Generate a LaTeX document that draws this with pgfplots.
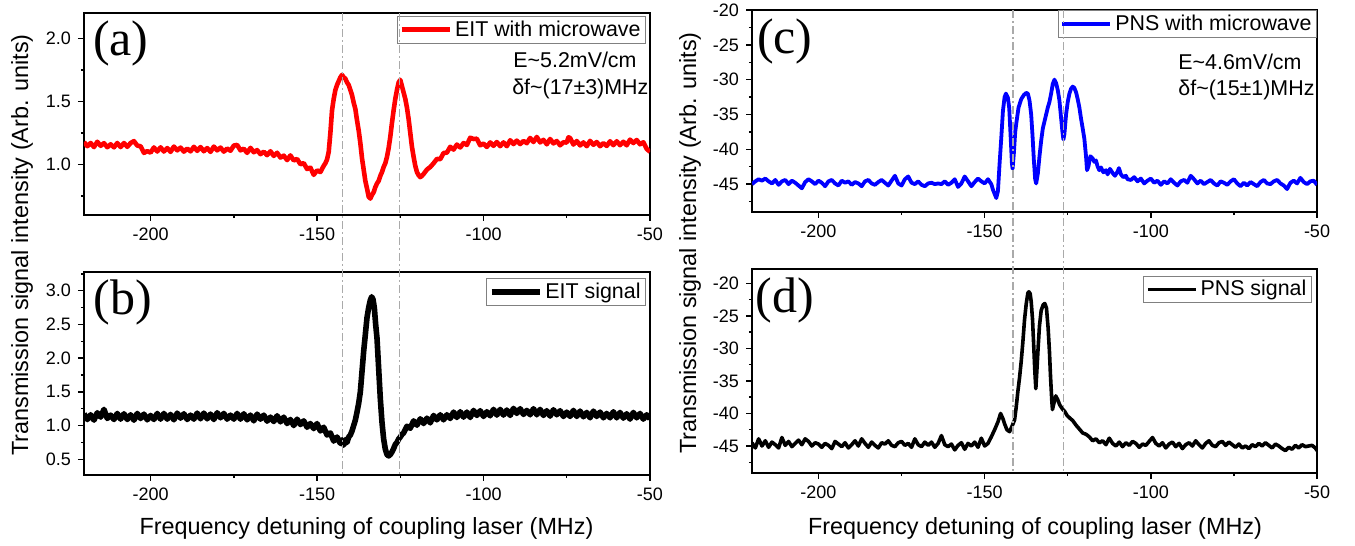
\documentclass[border=0pt]{standalone}
\usepackage{pgfplots}
\pgfplotsset{compat=1.18}
\usepackage{fontspec}
\setmainfont{Liberation Sans}
\newfontfamily\tnr{Liberation Serif}
\definecolor{vline}{RGB}{170,170,170}
\begin{document}
\begin{tikzpicture}
\useasboundingbox (0,0) rectangle (677.5pt,273pt);
\pgfplotsset{
  base/.style={
    scale only axis, anchor=north west,
    xmin=-220, xmax=-50,
    xtick={-200,-150,-100,-50}, minor xtick={-175,-125,-75},
    tick align=outside, tick pos=left,
    major tick length=3pt, minor tick length=1.6pt,
    every tick/.style={black, line width=0.7pt},
    axis line style={black, line width=0.7pt},
    /pgf/number format/assume math mode=true,
    tick label style={font=\fontsize{9}{10}\selectfont},
    legend cell align=left,
    legend style={draw=gray, line width=0.5pt, inner xsep=1pt, inner ysep=0.5pt,
      font=\fontsize{10.7}{12}\selectfont,
      nodes={inner sep=1.5pt}},
    legend image code/.code={\draw[##1] (0pt,0pt) -- (24pt,0pt);},
  },
  dec/.style={yticklabel style={/pgf/number format/.cd, fixed, fixed zerofill, precision=1}},
}
% ---------------- (a)
\begin{axis}[base, dec, at={(42pt,266.5pt)}, width=283pt, height=101pt,
  ymin=0.6, ymax=2.2, ytick={1,1.5,2}, minor ytick={0.75,1.25,1.75},
  legend style={at={(0.993,0.985)}, anchor=north east}]
\addplot[red, line width=2.3pt, line join=round] coordinates {
(-220,1.178)(-219,1.145)(-218,1.170)(-217,1.138)(-216,1.180)(-215,1.148)(-214,1.169)(-213,1.137)(-212,1.160)(-211,1.136)(-210,1.170)(-209,1.138)(-208,1.170)(-207,1.140)(-206,1.170)(-205,1.185)(-204,1.150)(-203,1.144)(-202,1.092)(-201,1.106)(-200,1.094)(-199,1.135)(-198,1.103)(-197,1.136)(-196,1.103)(-195,1.130)(-194,1.100)(-193,1.142)(-192,1.112)(-191,1.134)(-190,1.102)(-189,1.126)(-188,1.104)(-187,1.140)(-186,1.108)(-185,1.138)(-184,1.105)(-183,1.130)(-182,1.100)(-181,1.142)(-180,1.112)(-179,1.134)(-178,1.102)(-177,1.126)(-176,1.109)(-175,1.150)(-174,1.155)(-173,1.112)(-172,1.125)(-171,1.092)(-170,1.132)(-169,1.097)(-168,1.114)(-167,1.082)(-166,1.101)(-165,1.074)(-164,1.105)(-163,1.068)(-162,1.093)(-161,1.055)(-160,1.070)(-159,1.035)(-158,1.072)(-157,1.032)(-156,1.044)(-155,1.002)(-154,1.011)(-153,0.964)(-152,0.975)(-151,0.918)(-150,0.953)(-149,0.940)(-148,0.990)(-147.5,1.01)(-147,1.04)(-146.5,1.10)(-146,1.25)(-145.5,1.43)(-145,1.52)(-144.5,1.59)(-144,1.63)(-143.5,1.66)(-143,1.69)(-142.5,1.71)(-142,1.69)(-141.5,1.68)(-141,1.65)(-140.5,1.63)(-140,1.59)(-139.5,1.55)(-139,1.49)(-138.5,1.44)(-138,1.35)(-137.5,1.27)(-137,1.17)(-136.5,1.05)(-136,0.96)(-135.5,0.87)(-135,0.81)(-134.5,0.745)(-134,0.73)(-133.5,0.76)(-133,0.78)(-132.5,0.82)(-132,0.85)(-131.5,0.87)(-131,0.91)(-130.5,0.94)(-130,0.98)(-129.5,1.01)(-129,1.06)(-128.5,1.13)(-128,1.22)(-127.5,1.33)(-127,1.43)(-126.5,1.52)(-126,1.59)(-125.5,1.65)(-125,1.67)(-124.5,1.62)(-124,1.57)(-123.5,1.52)(-123,1.45)(-122.5,1.36)(-122,1.25)(-121.5,1.14)(-121,1.06)(-120.5,0.99)(-120,0.94)(-119.5,0.915)(-119,0.90)(-118.5,0.91)(-118,0.925)(-117,0.96)(-116,0.98)(-115,1.01)(-114,1.044)(-113,1.042)(-112,1.091)(-111,1.094)(-110,1.140)(-109,1.118)(-108,1.158)(-107,1.135)(-106,1.170)(-105,1.155)(-104,1.212)(-103,1.202)(-102,1.204)(-101,1.152)(-100,1.166)(-99,1.139)(-98,1.175)(-97,1.148)(-96,1.178)(-95,1.145)(-94,1.175)(-93,1.145)(-92,1.192)(-91,1.162)(-90,1.189)(-89,1.162)(-88,1.186)(-87,1.169)(-86,1.210)(-85,1.178)(-84,1.218)(-83,1.175)(-82,1.195)(-81,1.160)(-80,1.202)(-79,1.167)(-78,1.186)(-77,1.152)(-76,1.176)(-75,1.174)(-74.5,1.215)(-74,1.210)(-73,1.158)(-72,1.186)(-71,1.151)(-70,1.175)(-69,1.145)(-68,1.187)(-67,1.156)(-66,1.178)(-65,1.145)(-64,1.169)(-63,1.147)(-62,1.184)(-61,1.153)(-60,1.184)(-59,1.153)(-58,1.180)(-57,1.152)(-56,1.197)(-55,1.170)(-54,1.194)(-53,1.160)(-52,1.176)(-51,1.124)(-50,1.10)
};
\addlegendentry{EIT with microwave}
\node[anchor=west, inner sep=0pt, font=\fontsize{10.7}{12}\selectfont] at (axis description cs:0.758,0.767) {E\textasciitilde5.2mV/cm};
\node[anchor=west, inner sep=0pt, font=\fontsize{10.7}{12}\selectfont] at (axis description cs:0.756,0.624) {δf\textasciitilde(17±3)MHz};
\node[font=\tnr\fontsize{25}{25}\selectfont] at (axis description cs:0.065,0.847) {(a)};
\coordinate (va1) at (axis cs:-142.3,2.2);
\coordinate (va2) at (axis cs:-125.3,2.2);
\end{axis}
% ---------------- (b)
\begin{axis}[base, dec, at={(42pt,137pt)}, width=283pt, height=101.5pt,
  ymin=0.267, ymax=3.277, ytick={0.5,1,1.5,2,2.5,3}, minor ytick={0.75,1.25,1.75,2.25,2.75,3.25},
  legend style={at={(0.993,0.97)}, anchor=north east}]
\addplot[black, line width=2.8pt, line join=round] coordinates {
(-220,1.175)(-219,1.090)(-218,1.160)(-217,1.080)(-216,1.190)(-215,1.125)(-214,1.240)(-213,1.105)(-212,1.155)(-211,1.090)(-210,1.180)(-209,1.095)(-208,1.175)(-207,1.090)(-206,1.160)(-205,1.080)(-204,1.180)(-203,1.105)(-202,1.170)(-201,1.085)(-200,1.150)(-199,1.090)(-198,1.180)(-197,1.095)(-196,1.180)(-195,1.095)(-194,1.165)(-193,1.085)(-192,1.185)(-191,1.110)(-190,1.175)(-189,1.090)(-188,1.155)(-187,1.095)(-186,1.185)(-185,1.100)(-184,1.185)(-183,1.100)(-182,1.170)(-181,1.090)(-180,1.190)(-179,1.115)(-178,1.180)(-177,1.095)(-176,1.155)(-175,1.095)(-174,1.180)(-173,1.095)(-172,1.175)(-171,1.085)(-170,1.155)(-169,1.070)(-168,1.170)(-167,1.095)(-166,1.155)(-165,1.065)(-164,1.125)(-163,1.060)(-162,1.145)(-161,1.055)(-160,1.125)(-159,1.030)(-158,1.090)(-157,1.000)(-156,1.095)(-155,1.015)(-154,1.070)(-153,0.975)(-152,1.030)(-151,0.955)(-150,1.030)(-149,0.920)(-148,0.975)(-147,0.860)(-146,0.890)(-145,0.770)(-144,0.830)(-143,0.735)(-142.5,0.79)(-142,0.71)(-141.5,0.79)(-141,0.75)(-140.5,0.83)(-140,0.86)(-139.5,0.92)(-139,1.0)(-138.5,1.08)(-138,1.2)(-137.5,1.33)(-137,1.5)(-136.5,1.8)(-136,2.1)(-135.5,2.35)(-135,2.6)(-134.5,2.75)(-134,2.86)(-133.6,2.91)(-133.2,2.87)(-132.8,2.75)(-132.4,2.5)(-132,2.3)(-131.5,1.85)(-131,1.4)(-130.5,1.05)(-130,0.8)(-129.5,0.65)(-129,0.57)(-128.5,0.55)(-128,0.57)(-127.5,0.61)(-127,0.66)(-126.5,0.72)(-126,0.75)(-125.5,0.80)(-125,0.83)(-124.5,0.87)(-124,0.89)(-123,0.99)(-122,0.96)(-121,1.07)(-120,1.005)(-119,1.100)(-118,1.030)(-117,1.110)(-116,1.040)(-115,1.150)(-114,1.085)(-113,1.160)(-112,1.085)(-111,1.160)(-110,1.105)(-109,1.200)(-108,1.120)(-107,1.205)(-106,1.125)(-105,1.200)(-104,1.120)(-103,1.225)(-102,1.150)(-101,1.220)(-100,1.135)(-99,1.205)(-98,1.145)(-97,1.240)(-96,1.155)(-95,1.240)(-94,1.155)(-93,1.230)(-92,1.150)(-91,1.255)(-90,1.180)(-89,1.250)(-88,1.165)(-87,1.225)(-86,1.160)(-85,1.250)(-84,1.160)(-83,1.240)(-82,1.150)(-81,1.220)(-80,1.140)(-79,1.235)(-78,1.160)(-77,1.220)(-76,1.135)(-75,1.200)(-74,1.135)(-73,1.225)(-72,1.135)(-71,1.215)(-70,1.130)(-69,1.195)(-68,1.115)(-67,1.215)(-66,1.135)(-65,1.200)(-64,1.115)(-63,1.180)(-62,1.115)(-61,1.205)(-60,1.115)(-59,1.195)(-58,1.110)(-57,1.175)(-56,1.095)(-55,1.195)(-54,1.115)(-53,1.180)(-52,1.095)(-51,1.160)(-50,1.100)
};
\addlegendentry{EIT signal}
\node[font=\tnr\fontsize{25}{25}\selectfont] at (axis description cs:0.069,0.852) {(b)};
\coordinate (vb1) at (axis cs:-142.3,0.267);
\coordinate (vb2) at (axis cs:-125.3,0.267);
\end{axis}
% ---------------- (c)
\begin{axis}[base, at={(376pt,268pt)}, width=282.5pt, height=101pt,
  ymin=-49, ymax=-20, ytick={-45,-40,-35,-30,-25,-20}, minor ytick={-47.5,-42.5,-37.5,-32.5,-27.5,-22.5},
  legend style={at={(1,1)}, anchor=north east}]
\addplot[blue, line width=1.9pt, line join=round] coordinates {
(-220,-45.0)(-219,-44.6)(-218,-44.3)(-217,-44.5)(-216,-44.2)(-215,-44.6)(-214,-44.9)(-213,-44.4)(-212,-45.1)(-211,-44.6)(-210,-44.4)(-209,-45.0)(-208,-44.5)(-207,-44.8)(-206,-45.2)(-205,-45.6)(-204,-44.7)(-203,-44.3)(-202,-44.6)(-201,-45.0)(-200,-44.5)(-199,-44.8)(-198,-45.3)(-197,-44.6)(-196,-44.4)(-195,-44.9)(-194,-45.2)(-193,-44.5)(-192,-44.8)(-191,-44.6)(-190,-45.1)(-189,-44.7)(-188,-44.9)(-187,-45.3)(-186,-44.6)(-185,-44.4)(-184,-44.9)(-183,-45.1)(-182,-44.7)(-181,-44.4)(-180,-44.8)(-179,-45.2)(-178,-44.5)(-177,-43.8)(-176,-44.9)(-175,-45.2)(-174,-44.3)(-173,-43.9)(-172,-44.8)(-171,-45.0)(-170,-44.6)(-169,-45.1)(-168,-45.3)(-167,-44.9)(-166,-44.8)(-165,-45.0)(-164,-44.9)(-163,-45.0)(-162,-44.6)(-161,-45.1)(-160,-44.8)(-159,-44.3)(-158,-45.4)(-157,-44.9)(-156,-43.9)(-155,-44.6)(-154,-45.3)(-153,-44.7)(-152,-44.2)(-151,-44.6)(-150,-44.9)(-149,-44.3)(-148,-45.0)(-147.5,-45.8)(-147,-46.4)(-146.5,-47.0)(-146,-46.0)(-145.5,-42.0)(-145,-38.4)(-144.5,-34.5)(-144,-32.5)(-143.6,-32.0)(-143,-32.6)(-142.6,-34.1)(-142.2,-38.0)(-141.8,-42.0)(-141.6,-42.8)(-141.2,-40.5)(-140.8,-37.5)(-140.4,-36.0)(-139.8,-34.0)(-139,-32.8)(-138.2,-32.2)(-137.5,-31.9)(-137,-32.0)(-136.5,-33.0)(-136,-35.0)(-135.6,-38.0)(-135.2,-41.5)(-134.8,-44.3)(-134.5,-44.9)(-134,-43.5)(-133.5,-41.0)(-133,-38.8)(-132.5,-37.0)(-132,-36.0)(-131.5,-35.0)(-131,-34.0)(-130.5,-33.2)(-130,-32.0)(-129.5,-30.6)(-129,-30.0)(-128.5,-30.5)(-128,-31.5)(-127.5,-33.0)(-127,-35.5)(-126.6,-37.5)(-126.3,-38.6)(-126,-37.8)(-125.5,-35.0)(-125,-33.2)(-124.5,-32.0)(-124,-31.3)(-123.5,-31.0)(-123,-31.2)(-122.5,-31.8)(-122,-32.8)(-121.5,-34.0)(-121,-35.6)(-120.5,-37.0)(-120,-38.5)(-119.5,-41.0)(-119.2,-43.0)(-118.8,-42.5)(-118.2,-41.0)(-117.5,-41.3)(-117,-41.8)(-116.5,-41.6)(-116,-42.5)(-115.5,-43.0)(-115,-42.6)(-114.3,-43.3)(-113.5,-43.0)(-113,-43.6)(-112.3,-42.8)(-111.5,-43.4)(-110.8,-43.8)(-110,-43.2)(-109.6,-42.7)(-109,-43.6)(-108.3,-44.0)(-107.5,-43.8)(-107,-44.3)(-106,-44.4)(-105,-44.0)(-104,-44.6)(-103,-44.2)(-102,-44.9)(-101,-44.5)(-100,-44.2)(-99,-44.8)(-98,-44.5)(-97,-45.1)(-96,-44.6)(-95,-44.9)(-94,-44.3)(-93,-44.8)(-92,-45.2)(-91,-44.6)(-90,-44.4)(-89,-44.8)(-88,-43.8)(-87,-44.3)(-86,-44.9)(-85,-44.5)(-84,-45.0)(-83,-44.7)(-82,-44.4)(-81,-44.9)(-80,-45.2)(-79,-44.6)(-78,-44.8)(-77,-45.1)(-76,-44.6)(-75,-44.3)(-74,-44.9)(-73,-45.3)(-72,-44.8)(-71,-45.2)(-70,-44.7)(-69,-45.0)(-68,-45.3)(-67,-44.7)(-66,-44.4)(-65,-44.9)(-64,-45.0)(-63,-44.6)(-62,-44.4)(-61,-44.9)(-60,-45.2)(-59,-45.7)(-58,-44.8)(-57,-44.5)(-56,-44.9)(-55,-44.1)(-54,-44.7)(-53,-45.0)(-52,-44.6)(-51,-44.5)(-50,-45.1)
};
\addlegendentry{PNS with microwave}
\node[anchor=west, inner sep=0pt, font=\fontsize{10.7}{12}\selectfont] at (axis description cs:0.754,0.743) {E\textasciitilde4.6mV/cm};
\node[anchor=west, inner sep=0pt, font=\fontsize{10.7}{12}\selectfont] at (axis description cs:0.754,0.604) {δf\textasciitilde(15±1)MHz};
\node[font=\tnr\fontsize{25}{25}\selectfont] at (axis description cs:0.058,0.842) {(c)};
\coordinate (vc1) at (axis cs:-141.5,-20);
\coordinate (vc2) at (axis cs:-126.2,-20);
\end{axis}
% ---------------- (d)
\begin{axis}[base, at={(376pt,138.5pt)}, width=282.5pt, height=102pt,
  ymin=-49.15, ymax=-17.8, ytick={-45,-40,-35,-30,-25,-20}, minor ytick={-47.5,-42.5,-37.5,-32.5,-27.5,-22.5},
  legend style={at={(0.991,0.966)}, anchor=north east}]
\addplot[black, line width=1.8pt, line join=round] coordinates {
(-220,-44.5)(-219,-45.3)(-218,-43.9)(-217,-45.0)(-216,-44.2)(-215,-45.2)(-214,-44.4)(-213,-44.8)(-212,-45.3)(-211,-43.7)(-210,-44.9)(-209,-44.3)(-208,-45.1)(-207,-44.6)(-206,-44.1)(-205,-44.8)(-204,-43.9)(-203,-44.3)(-202,-45.0)(-201,-44.5)(-200,-44.7)(-199,-45.2)(-198,-44.6)(-197,-44.9)(-196,-45.4)(-195,-44.3)(-194,-44.7)(-193,-45.1)(-192,-44.5)(-191,-45.3)(-190,-44.8)(-189,-44.2)(-188,-45.0)(-187,-43.9)(-186,-44.6)(-185,-45.2)(-184,-44.4)(-183,-44.9)(-182,-45.3)(-181,-44.5)(-180,-44.7)(-179,-44.2)(-178,-44.9)(-177,-45.1)(-176,-44.5)(-175,-44.3)(-174,-44.9)(-173,-44.6)(-172,-45.2)(-171,-43.9)(-170,-44.8)(-169,-45.1)(-168,-44.4)(-167,-44.9)(-166,-44.4)(-165,-45.2)(-164,-44.6)(-163,-43.4)(-162,-44.8)(-161,-45.1)(-160,-44.7)(-159,-45.6)(-158,-44.9)(-157,-44.5)(-156,-45.5)(-155,-44.6)(-154,-45.0)(-153,-44.4)(-152,-45.2)(-151,-43.8)(-150,-45.0)(-149,-44.6)(-148,-43.6)(-147,-42.5)(-146,-41.3)(-145.2,-40.0)(-144.5,-40.8)(-144,-41.6)(-143.3,-42.5)(-142.5,-42.8)(-141.8,-42.0)(-141,-41.0)(-140.5,-39.0)(-140,-36.6)(-139.5,-34.5)(-139,-32.0)(-138.5,-29.0)(-138,-25.6)(-137.5,-23.2)(-137,-21.5)(-136.7,-21.3)(-136.3,-21.6)(-136,-22.8)(-135.6,-25.5)(-135.2,-30.0)(-134.9,-33.5)(-134.6,-36.2)(-134.3,-33.5)(-133.9,-29.8)(-133.5,-26.5)(-133,-24.2)(-132.4,-23.3)(-131.9,-23.1)(-131.4,-23.8)(-130.9,-26.9)(-130.5,-30.5)(-130.2,-34.1)(-129.8,-38.0)(-129.6,-39.4)(-129.2,-38.5)(-128.6,-37.3)(-128,-37.9)(-127.4,-38.7)(-126.6,-39.3)(-125.9,-39.7)(-125.2,-40.3)(-124.4,-40.7)(-123.5,-41.1)(-122.5,-41.8)(-121.5,-42.4)(-120.5,-43.0)(-119.5,-43.2)(-118.5,-43.6)(-117.5,-44.2)(-116.5,-43.9)(-115.5,-44.5)(-114.5,-44.2)(-113.5,-44.8)(-112.5,-43.8)(-111.5,-44.6)(-110.5,-45.0)(-109.5,-44.4)(-108.5,-45.1)(-107.5,-44.5)(-106.5,-44.9)(-105.5,-44.3)(-104.5,-44.6)(-103.5,-45.2)(-102.5,-44.7)(-101.5,-44.9)(-100.5,-44.3)(-99.5,-43.7)(-98.5,-44.6)(-97.5,-45.0)(-96.5,-44.5)(-95.5,-45.3)(-94.5,-44.7)(-93.5,-44.4)(-92.5,-45.1)(-91.5,-44.6)(-90.5,-45.4)(-89.5,-44.8)(-88.5,-44.5)(-87.5,-45.0)(-86.5,-44.2)(-85.5,-44.8)(-84.5,-45.3)(-83.5,-44.6)(-82.5,-44.2)(-81.5,-44.9)(-80.5,-45.1)(-79.5,-44.5)(-78.5,-44.3)(-77.5,-44.9)(-76.5,-44.4)(-75.5,-44.8)(-74.5,-45.2)(-73.5,-44.7)(-72.5,-45.3)(-71.5,-45.0)(-70.5,-45.4)(-69.5,-44.8)(-68.5,-45.1)(-67.5,-44.6)(-66.5,-45.0)(-65.5,-44.5)(-64.5,-44.9)(-63.5,-45.3)(-62.5,-44.7)(-61.5,-45.0)(-60.5,-45.4)(-59.5,-45.7)(-58.5,-45.2)(-57.5,-45.5)(-56.5,-44.9)(-55.5,-45.3)(-54.5,-44.8)(-53.5,-45.1)(-52.5,-45.0)(-51.5,-44.9)(-50.5,-45.3)(-50,-45.7)
};
\addlegendentry{PNS signal}
\node[font=\tnr\fontsize{25}{25}\selectfont] at (axis description cs:0.058,0.848) {(d)};
\coordinate (vd1) at (axis cs:-141.5,-49.15);
\coordinate (vd2) at (axis cs:-126.2,-49.15);
\end{axis}
% reference lines
\tikzset{refl/.style={vline, line width=0.7pt, dash pattern=on 4pt off 1.6pt on 0.8pt off 1.6pt}}
\draw[refl] (va1) -- (vb1);
\draw[refl] (va2) -- (vb2);
\draw[refl] (vc1) -- (vd1);
\draw[refl] (vc2) -- (vd2);
% axis titles
\node[rotate=90, font=\fontsize{11.7}{13}\selectfont] at (11pt,150.5pt) {Transmission signal intensity (Arb. units)};
\node[rotate=90, font=\fontsize{11.7}{13}\selectfont] at (345pt,151.5pt) {Transmission signal intensity (Arb. units)};
\node[font=\fontsize{11.7}{13}\selectfont] at (183.25pt,9pt) {Frequency detuning of coupling laser (MHz)};
\node[font=\fontsize{11.7}{13}\selectfont] at (517.5pt,9pt) {Frequency detuning of coupling laser (MHz)};
\end{tikzpicture}
\end{document}
